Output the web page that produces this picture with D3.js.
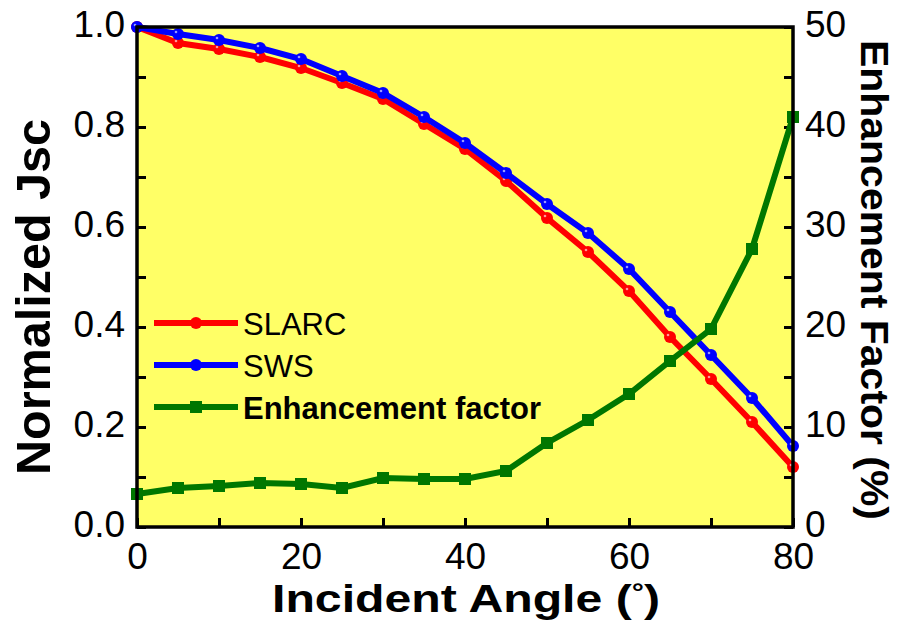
<!DOCTYPE html>
<html>
<head>
<meta charset="utf-8">
<script src="https://cdn.jsdelivr.net/npm/d3@7"></script>
<style>
  body { margin: 0; background: #fff; }
  svg text { font-family: "Liberation Sans", Arial, sans-serif; }
</style>
</head>
<body>
<svg id="chart" width="899" height="630"></svg>
<script>
// data
var angles = [0, 5, 10, 15, 20, 25, 30, 35, 40, 45, 50, 55, 60, 65, 70, 75, 80];
var slarc = [1.0, 0.968, 0.956, 0.94, 0.918, 0.888, 0.856, 0.806, 0.756, 0.692, 0.618, 0.55, 0.472, 0.38, 0.296, 0.21, 0.12];
var sws = [1.0, 0.986, 0.974, 0.958, 0.936, 0.902, 0.868, 0.82, 0.768, 0.708, 0.646, 0.588, 0.516, 0.43, 0.344, 0.258, 0.162];
var enhancement = [3.3, 3.9, 4.1, 4.4, 4.3, 3.9, 4.9, 4.8, 4.8, 5.6, 8.4, 10.7, 13.3, 16.6, 19.8, 27.8, 41.0];
var xTicks = [0, 20, 40, 60, 80];
var yTicks = [0, 0.2, 0.4, 0.6, 0.8, 1.0];
var y2Ticks = [0, 10, 20, 30, 40, 50];

var svg = d3.select("#chart");
var plotL = 137, plotR = 793, plotT = 27, plotB = 527;

var x = d3.scaleLinear().domain([0, 80]).range([plotL, plotR]);
var y = d3.scaleLinear().domain([0, 1]).range([plotB, plotT]);
var y2 = d3.scaleLinear().domain([0, 50]).range([plotB, plotT]);

svg.append("rect")
    .attr("x", plotL).attr("y", plotT)
    .attr("width", plotR - plotL).attr("height", plotB - plotT)
    .attr("fill", "#ffff66");

// axes with inward ticks, minor ones unlabelled
svg.append("g").attr("transform", "translate(0," + plotB + ")")
    .call(d3.axisBottom(x).tickValues(d3.range(0, 81, 10)).tickSize(-9).tickPadding(16)
        .tickFormat(function (d) { return xTicks.indexOf(d) >= 0 ? d : ""; }));
var yAx = svg.append("g").attr("transform", "translate(" + plotL + ",0)")
    .call(d3.axisLeft(y).tickValues(d3.range(0, 11).map(function (d) { return d / 10; })).tickSize(-9).tickPadding(12)
        .tickFormat(function (d) {
            var s = d3.format(".1f")(d);
            return yTicks.map(d3.format(".1f")).indexOf(s) >= 0 ? s : "";
        }));
var y2Ax = svg.append("g").attr("transform", "translate(" + plotR + ",0)")
    .call(d3.axisRight(y2).tickValues(d3.range(0, 51, 5)).tickSize(-9).tickPadding(12)
        .tickFormat(function (d) { return y2Ticks.indexOf(d) >= 0 ? d : ""; }));

svg.selectAll(".tick text").attr("font-size", 37).attr("fill", "#000");
yAx.selectAll(".tick text").attr("dy", "0.25em");
y2Ax.selectAll(".tick text").attr("dy", "0.25em");
svg.selectAll(".tick line").attr("stroke", "#000").attr("stroke-width", 3);
svg.selectAll(".domain").remove();

var lineJ = d3.line().x(function (d, i) { return x(angles[i]); }).y(function (d) { return y(d); });
var lineE = d3.line().x(function (d, i) { return x(angles[i]); }).y(function (d) { return y2(d); });

var plot = svg.append("g");

function drawCircles(values, color) {
    plot.append("path").datum(values)
        .attr("d", lineJ).attr("fill", "none")
        .attr("stroke", color).attr("stroke-width", 6);
    plot.selectAll(null).data(values).enter().append("circle")
        .attr("cx", function (d, i) { return x(angles[i]); })
        .attr("cy", function (d) { return y(d); })
        .attr("r", 6).attr("fill", color);
    plot.selectAll(null).data(values).enter().append("circle")
        .attr("cx", function (d, i) { return x(angles[i]) - 2; })
        .attr("cy", function (d) { return y(d) - 2; })
        .attr("r", 1.3).attr("fill", "#fff").attr("opacity", 0.6);
}

drawCircles(slarc, "#ff0000");
drawCircles(sws, "#0000ff");

plot.append("path").datum(enhancement)
    .attr("d", lineE).attr("fill", "none")
    .attr("stroke", "#007700").attr("stroke-width", 6);
plot.selectAll(null).data(enhancement).enter().append("rect")
    .attr("x", function (d, i) { return x(angles[i]) - 6; })
    .attr("y", function (d) { return y2(d) - 6; })
    .attr("width", 12).attr("height", 12)
    .attr("fill", "#007700");

svg.append("rect")
    .attr("x", plotL).attr("y", plotT)
    .attr("width", plotR - plotL).attr("height", plotB - plotT)
    .attr("fill", "none").attr("stroke", "#000").attr("stroke-width", 3.5);

// legend
var legend = [
    { name: "SLARC", color: "#ff0000", mark: "circle", bold: false },
    { name: "SWS", color: "#0000ff", mark: "circle", bold: false },
    { name: "Enhancement factor", color: "#007700", mark: "square", bold: true }
];
var lg = svg.selectAll(".leg").data(legend).enter().append("g")
    .attr("transform", function (d, i) { return "translate(154," + (323 + i * 42) + ")"; });
lg.append("line").attr("x1", 0).attr("x2", 84).attr("y1", 0).attr("y2", 0)
    .attr("stroke", function (d) { return d.color; }).attr("stroke-width", 6);
lg.filter(function (d) { return d.mark === "circle"; }).append("circle")
    .attr("cx", 42).attr("cy", 0).attr("r", 6)
    .attr("fill", function (d) { return d.color; });
lg.filter(function (d) { return d.mark === "square"; }).append("rect")
    .attr("x", 36).attr("y", -6).attr("width", 12).attr("height", 12)
    .attr("fill", function (d) { return d.color; });
lg.append("text").attr("x", 89).attr("y", 12)
    .attr("font-size", 31)
    .attr("font-weight", function (d) { return d.bold ? "bold" : "normal"; })
    .text(function (d) { return d.name; });

// axis titles
var xt = svg.append("text").attr("x", 466).attr("y", 612)
    .attr("text-anchor", "middle").attr("font-size", 38).attr("font-weight", "bold")
    .attr("textLength", 388).attr("lengthAdjust", "spacingAndGlyphs");
xt.append("tspan").text("Incident Angle (");
xt.append("tspan").attr("dy", -12).attr("font-size", 24).text("°");
xt.append("tspan").attr("dy", 12).text(")");

svg.append("text")
    .attr("transform", "translate(50,297) rotate(-90)")
    .attr("text-anchor", "middle").attr("font-size", 48).attr("font-weight", "bold")
    .attr("textLength", 356).attr("lengthAdjust", "spacingAndGlyphs")
    .text("Normalized Jsc");

svg.append("text")
    .attr("transform", "translate(861,280) rotate(90)")
    .attr("text-anchor", "middle").attr("font-size", 39).attr("font-weight", "bold")
    .attr("textLength", 480).attr("lengthAdjust", "spacingAndGlyphs")
    .text("Enhancement Factor (%)");
</script>
</body>
</html>
